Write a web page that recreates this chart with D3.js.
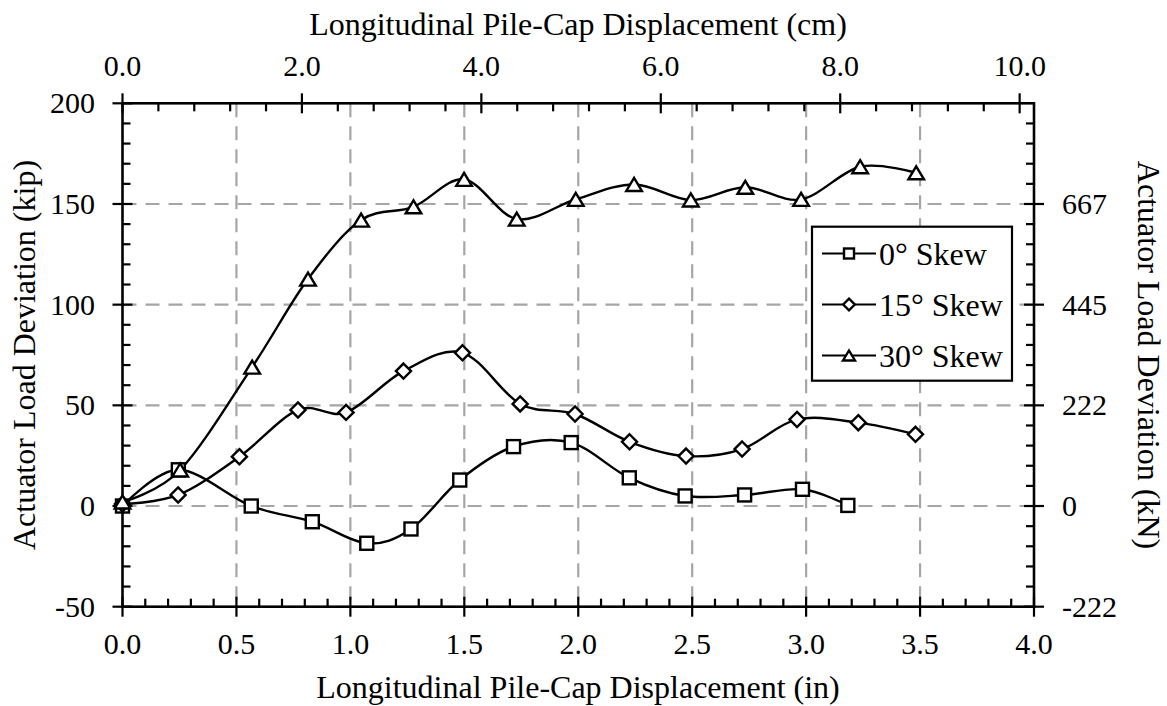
<!DOCTYPE html>
<html><head><meta charset="utf-8">
<script src="https://cdn.jsdelivr.net/npm/d3@7"></script>
</head>
<body style="margin:0">
<svg id="chart" width="1167" height="706"></svg>
<script>
// ---- data ----
const x0deg  = [0, 0.245, 0.565, 0.833, 1.072, 1.266, 1.48, 1.716, 1.969, 2.224, 2.469, 2.73, 2.984, 3.183];
const y0deg  = [0, 18, 0, -7.8, -18.5, -11.4, 12.9, 29.5, 31.5, 14, 5, 5.5, 8.3, 0.3];
const x15deg = [0, 0.244, 0.513, 0.77, 0.981, 1.233, 1.492, 1.745, 1.986, 2.225, 2.473, 2.719, 2.96, 3.229, 3.48];
const y15deg = [1, 5.5, 24.5, 47.7, 46.5, 67, 76.1, 50.7, 45.7, 31.9, 24.8, 28.3, 43, 41.4, 35.6];
const x30deg = [0, 0.253, 0.569, 0.814, 1.047, 1.277, 1.499, 1.73, 1.989, 2.245, 2.494, 2.733, 2.978, 3.237, 3.483];
const y30deg = [2, 17.9, 69, 112.7, 142, 148.6, 162.2, 142.5, 152.3, 159.7, 152, 158.3, 152.3, 168.5, 165.5];
const seriesNames = ["0° Skew", "15° Skew", "30° Skew"];
const xTicksIn = [0, 0.5, 1, 1.5, 2, 2.5, 3, 3.5, 4];
const xTicksCm = [0, 2, 4, 6, 8, 10];
const yTicksKip = [-50, 0, 50, 100, 150, 200];
const yTicksKN = [-50, 0, 50, 100, 150];
const yLabelsKN = ["-222", "0", "222", "445", "667"];

// ---- layout ----
const svg = d3.select("#chart");
const L = 122.5, R = 1034, T = 103.3, B = 606.7;
const x = d3.scaleLinear().domain([0, 4]).range([L, R]);
const xcm = d3.scaleLinear().domain([0, 4 * 2.54]).range([L, R]);
const y = d3.scaleLinear().domain([-50, 200]).range([B, T]);
const FS = 30, FT = 32;
const FONT = "Liberation Serif";

// grid
const grid = svg.append("g").attr("stroke", "#a6a6a6").attr("stroke-width", 2.2).attr("stroke-dasharray", "14,9");
xTicksIn.filter(v => v > 0 && v < 4).forEach(v => {
  grid.append("line").attr("x1", x(v)).attr("x2", x(v)).attr("y1", T).attr("y2", B);
});
yTicksKip.filter(v => v > -50 && v < 200).forEach(v => {
  grid.append("line").attr("x1", L).attr("x2", R).attr("y1", y(v)).attr("y2", y(v));
});

// axes frames & ticks
const ax = svg.append("g").attr("stroke", "#000").attr("fill", "none");
ax.append("rect").attr("x", L).attr("y", T).attr("width", R - L).attr("height", B - T).attr("stroke-width", 2.6);
const tk = ax.append("g").attr("stroke-width", 2.2);
d3.range(0, 41).forEach(i => {
  const v = i / 10, px = x(v);
  if (i % 5 === 0) tk.append("line").attr("x1", px).attr("x2", px).attr("y1", B - 10).attr("y2", B + 10);
  else tk.append("line").attr("x1", px).attr("x2", px).attr("y1", B - 8).attr("y2", B);
});
d3.range(0, 26).forEach(i => {
  const v = i * 0.4, px = xcm(v);
  if (i % 5 === 0) tk.append("line").attr("x1", px).attr("x2", px).attr("y1", T - 10).attr("y2", T + 10);
  else tk.append("line").attr("x1", px).attr("x2", px).attr("y1", T).attr("y2", T + 8);
});
d3.range(-50, 201, 10).forEach(v => {
  const py = y(v);
  if (v % 50 === 0) {
    tk.append("line").attr("x1", L - 10).attr("x2", L + 10).attr("y1", py).attr("y2", py);
    if (v < 200) tk.append("line").attr("x1", R - 10).attr("x2", R + 10).attr("y1", py).attr("y2", py);
  } else {
    tk.append("line").attr("x1", L).attr("x2", L + 8).attr("y1", py).attr("y2", py);
    tk.append("line").attr("x1", R - 8).attr("x2", R).attr("y1", py).attr("y2", py);
  }
});

// markers
function marker(g, type, cx, cy, s) {
  let p;
  if (type === 0) p = g.append("rect").attr("x", cx - s / 2).attr("y", cy - s / 2).attr("width", s).attr("height", s);
  else if (type === 1) {
    const h = s * 0.58;
    p = g.append("path").attr("d", `M${cx},${cy - h}L${cx + h},${cy}L${cx},${cy + h}L${cx - h},${cy}Z`);
  } else {
    const w = s * 0.6, h = s * 0.5;
    p = g.append("path").attr("d", `M${cx},${cy - h}L${cx + w},${cy + h}L${cx - w},${cy + h}Z`);
  }
  p.attr("fill", "#fff").attr("stroke", "#000").attr("stroke-width", 2.4);
}

const allX = [x0deg, x15deg, x30deg], allY = [y0deg, y15deg, y30deg];
const line = d3.line().x(d => x(d[0])).y(d => y(d[1])).curve(d3.curveCardinal.tension(0));
const plot = svg.append("g");
allX.forEach((xs, si) => {
  const pts = xs.map((v, i) => [v, allY[si][i]]);
  plot.append("path").attr("d", line(pts)).attr("fill", "none").attr("stroke", "#000").attr("stroke-width", 2.4);
});
allX.forEach((xs, si) => {
  xs.forEach((v, i) => marker(plot, si, x(v), y(allY[si][i]), 13));
});

// legend
const lg = svg.append("g");
lg.append("rect").attr("x", 812).attr("y", 226.7).attr("width", 200).attr("height", 154).attr("fill", "#fff").attr("stroke", "#000").attr("stroke-width", 2.2);
seriesNames.forEach((n, i) => {
  const cy = 253.5 + i * 51;
  lg.append("line").attr("x1", 822).attr("x2", 876).attr("y1", cy).attr("y2", cy).attr("stroke", "#000").attr("stroke-width", 2.2);
  marker(lg, i, 849, cy, 10);
});

// text
function txt(s, size) {
  return svg.append("text").style("font-family", FONT).attr("font-size", size).text(s);
}
xTicksIn.forEach(v => txt(v.toFixed(1), FS).attr("x", x(v)).attr("y", 654).attr("text-anchor", "middle"));
xTicksCm.forEach(v => txt(v.toFixed(1), FS).attr("x", xcm(v)).attr("y", 76).attr("text-anchor", "middle"));
yTicksKip.forEach(v => txt(String(v), FS).attr("x", 95).attr("y", y(v) + 10).attr("text-anchor", "end"));
yTicksKN.forEach((v, i) => txt(yLabelsKN[i], FS).attr("x", 1062).attr("y", y(v) + 10).attr("text-anchor", "start"));
txt("Longitudinal Pile-Cap Displacement (cm)", FT).attr("x", 578).attr("y", 35).attr("text-anchor", "middle");
txt("Longitudinal Pile-Cap Displacement (in)", FT).attr("x", 578).attr("y", 698).attr("text-anchor", "middle");
txt("Actuator Load Deviation (kip)", FT).attr("transform", `translate(35,${(T + B) / 2}) rotate(-90)`).attr("text-anchor", "middle");
txt("Actuator Load Deviation (kN)", FT).attr("transform", `translate(1138,${(T + B) / 2}) rotate(90)`).attr("text-anchor", "middle");
seriesNames.forEach((n, i) => txt(n, FT).attr("x", 879).attr("y", 253.5 + i * 51 + 11));
</script>
</body></html>
